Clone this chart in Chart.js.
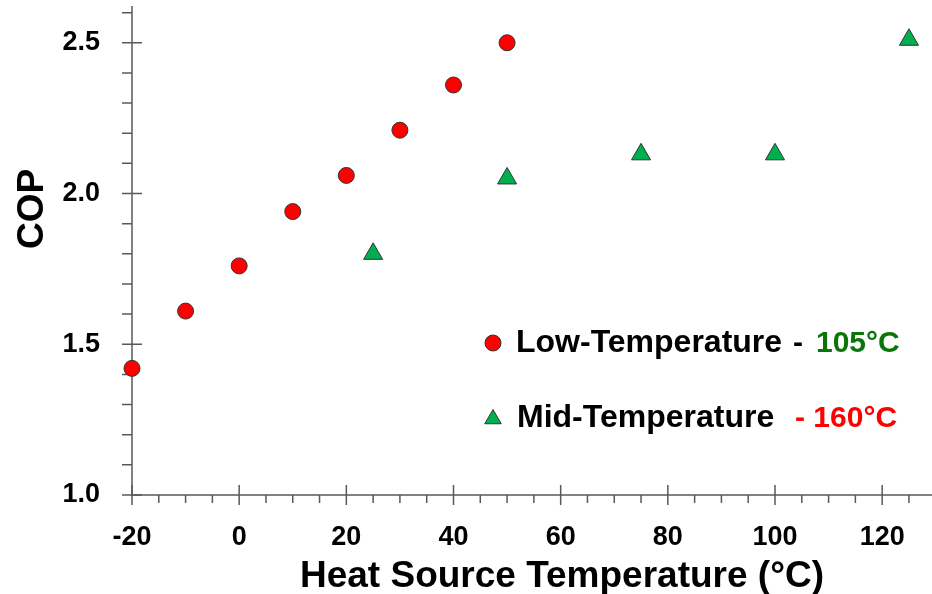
<!DOCTYPE html>
<html>
<head>
<meta charset="utf-8">
<script src="https://cdn.jsdelivr.net/npm/chart.js@4/dist/chart.umd.min.js"></script>
<style>
html,body{margin:0;padding:0;background:#fff;}
#wrap{width:932px;height:594px;}
</style>
</head>
<body>
<div id="wrap"><canvas id="c" width="932" height="594"></canvas></div>
<script>
// ---- data ----
const lowTempX = [-20, -10, 0, 10, 20, 30, 40, 50];
const lowTempCOP = [1.42, 1.61, 1.76, 1.94, 2.06, 2.21, 2.36, 2.50];
const midTempX = [25, 50, 75, 100, 125];
const midTempCOP = [1.80, 2.05, 2.13, 2.13, 2.51];
const xTickLabels = [-20, 0, 20, 40, 60, 80, 100, 120];
const yTickLabels = [1.0, 1.5, 2.0, 2.5];
const xTitle = 'Heat Source Temperature (°C)';
const yTitle = 'COP';
const legendLow = ['Low-Temperature', '- ', '105°C'];
const legendMid = ['Mid-Temperature', '- 160°C'];

const FONT = '"Liberation Sans", Arial, sans-serif';
const AXIS_COLOR = '#595959';

const axesPlugin = {
  id: 'axesPlugin',
  beforeDatasetsDraw(chart) {
    const ctx = chart.ctx;
    const xs = chart.scales.x, ys = chart.scales.y;
    ctx.save();
    ctx.strokeStyle = AXIS_COLOR;
    ctx.lineWidth = 1.5;
    ctx.beginPath();
    const x0 = xs.getPixelForValue(xs.min);
    const y0 = ys.getPixelForValue(ys.min);
    ctx.moveTo(x0, ys.getPixelForValue(ys.max));
    ctx.lineTo(x0, y0);
    ctx.lineTo(xs.getPixelForValue(xs.max), y0);
    ctx.stroke();
    ctx.beginPath();
    for (let v = -20; v <= xs.max + 1e-9; v += 5) {
      const px = xs.getPixelForValue(v);
      const major = xTickLabels.includes(v);
      if (major) { ctx.moveTo(px, y0 - 10); ctx.lineTo(px, y0 + 10); }
      else { ctx.moveTo(px, y0); ctx.lineTo(px, y0 + 8); }
    }
    for (let i = 0; ; i++) {
      const v = 1 + i * 0.1;
      if (v > ys.max + 1e-9) break;
      const py = ys.getPixelForValue(v);
      const major = yTickLabels.some(t => Math.abs(t - v) < 1e-6);
      if (major) { ctx.moveTo(x0 - 10, py); ctx.lineTo(x0 + 10, py); }
      else { ctx.moveTo(x0 - 10, py); ctx.lineTo(x0, py); }
    }
    ctx.stroke();
    ctx.restore();
  },
  afterDraw(chart) {
    const ctx = chart.ctx;
    const H = Chart.helpers;
    ctx.save();
    ctx.fillStyle = '#000';
    ctx.textBaseline = 'alphabetic';
    ctx.font = 'bold 37px ' + FONT;
    ctx.textAlign = 'center';
    ctx.fillText(xTitle, 562, 587);
    ctx.save();
    ctx.translate(43, 209);
    ctx.rotate(-Math.PI / 2);
    ctx.fillText(yTitle, 0, 0);
    ctx.restore();
    ctx.textAlign = 'left';
    ctx.fillStyle = '#ff0000'; ctx.strokeStyle = '#333'; ctx.lineWidth = 1;
    H.drawPoint(ctx, {pointStyle: 'circle', radius: 8, borderWidth: 1, rotation: 0}, 493, 343);
    ctx.fillStyle = '#00b050';
    H.drawPoint(ctx, {pointStyle: 'triangle', radius: 9.5, borderWidth: 1, rotation: 0}, 493, 419);
    ctx.font = 'bold 32px ' + FONT;
    ctx.fillStyle = '#000';
    ctx.fillText(legendLow[0], 516, 352);
    ctx.font = 'bold 30px ' + FONT;
    ctx.fillText(legendLow[1], 793, 352);
    ctx.fillStyle = '#0a760a';
    ctx.fillText(legendLow[2], 816, 352);
    ctx.font = 'bold 32px ' + FONT;
    ctx.fillStyle = '#000';
    ctx.fillText(legendMid[0], 517, 427);
    ctx.font = 'bold 30px ' + FONT;
    ctx.fillStyle = '#ff0000';
    ctx.fillText(legendMid[1], 795, 427);
    ctx.restore();
  }
};

function zeroPad(s) { s.paddingLeft = 0; s.paddingRight = 0; s.paddingTop = 0; s.paddingBottom = 0; }

new Chart(document.getElementById('c'), {
  type: 'scatter',
  data: {
    datasets: [
      {
        label: legendLow.join(''),
        data: lowTempX.map((x, i) => ({x, y: lowTempCOP[i]})),
        pointStyle: 'circle',
        pointRadius: 8,
        pointHoverRadius: 8,
        backgroundColor: '#ff0000',
        borderColor: '#333333',
        borderWidth: 1,
        clip: false
      },
      {
        label: legendMid.join(' '),
        data: midTempX.map((x, i) => ({x, y: midTempCOP[i]})),
        pointStyle: 'triangle',
        pointRadius: 11,
        pointHoverRadius: 11,
        backgroundColor: '#00b050',
        borderColor: '#333333',
        borderWidth: 1,
        clip: false
      }
    ]
  },
  options: {
    responsive: false,
    animation: false,
    devicePixelRatio: 1,
    layout: {autoPadding: false, padding: {top: 6, right: 0, bottom: 0, left: 0}},
    plugins: {legend: {display: false}, tooltip: {enabled: false}},
    events: [],
    scales: {
      x: {
        type: 'linear',
        min: -20,
        max: 129.3,
        border: {display: false},
        grid: {display: false, drawTicks: false},
        afterBuildTicks: (s) => { s.ticks = xTickLabels.map(v => ({value: v})); },
        ticks: {
          autoSkip: false,
          maxRotation: 0,
          padding: 26,
          color: '#000',
          font: {family: FONT, size: 27, weight: 'bold'},
          callback: (v) => String(v)
        },
        afterFit: (s) => { s.height = 99; zeroPad(s); }
      },
      y: {
        type: 'linear',
        min: 1,
        max: 2.622,
        border: {display: false},
        grid: {display: false, drawTicks: false},
        afterBuildTicks: (s) => { s.ticks = yTickLabels.map(v => ({value: v})); },
        ticks: {
          autoSkip: false,
          padding: 32,
          color: '#000',
          font: {family: FONT, size: 27, weight: 'bold'},
          callback: (v) => Number(v).toFixed(1)
        },
        afterFit: (s) => { s.width = 132; zeroPad(s); }
      }
    }
  },
  plugins: [axesPlugin]
});
</script>
</body>
</html>
